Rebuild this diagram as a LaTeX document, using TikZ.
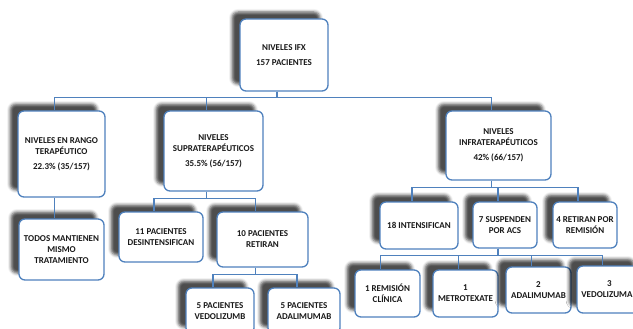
\documentclass[tikz,border=0pt]{standalone}
\usepackage{fontspec}
\setmainfont{Carlito}[BoldFont={Carlito Bold}]
\usetikzlibrary{shadows.blur}
\definecolor{bblue}{RGB}{79,129,189}
\definecolor{txt}{RGB}{25,25,25}
\tikzset{
  box/.style={draw=bblue, line width=1.3pt, rounded corners=6pt, fill=white,
    inner sep=0pt, align=center, text=txt,
    font=\fontsize{9}{11}\selectfont\bfseries,
    blur shadow={shadow xshift=-8pt, shadow yshift=7pt, shadow blur radius=3pt, shadow opacity=70}},
  conn/.style={draw=bblue, line width=1.3pt}
}
\begin{document}
\begin{tikzpicture}[x=1pt,y=-1pt]
\useasboundingbox (0,0) rectangle (633,329);
\clip (0,0) rectangle (633,329);
% nodes
\node[box, minimum width=88pt, minimum height=72pt] (root) at (284,55) {NIVELES IFX\\[4pt]157 PACIENTES};
\node[box, minimum width=87pt, minimum height=86pt] (rango) at (61.5,154) {NIVELES EN RANGO\\TERAPÉUTICO\\[4pt]22.3\% (35/157)};
\node[box, minimum width=99pt, minimum height=80pt] (supra) at (213.5,151) {NIVELES\\SUPRATERAPÉUTICOS\\[4pt]35.5\% (56/157)};
\node[box, minimum width=105pt, minimum height=69pt] (infra) at (498.5,145.5) {NIVELES\\INFRATERAPÉUTICOS\\[4pt]42\% (66/157)};
\node[box, minimum width=85pt, minimum height=61pt] (todos) at (61.5,249.5) {TODOS MANTIENEN\\MISMO\\TRATAMIENTO};
\node[box, minimum width=84pt, minimum height=50pt] (des) at (161,237) {11 PACIENTES\\DESINTENSIFICAN};
\node[box, minimum width=91pt, minimum height=55pt] (ret) at (262.5,239.5) {10 PACIENTES\\RETIRAN};
\node[box, minimum width=68pt, minimum height=46pt] (vedo5) at (220,311) {5 PACIENTES\\VEDOLIZUMB};
\node[box, minimum width=72pt, minimum height=46pt] (adal5) at (304,311) {5 PACIENTES\\ADALIMUMAB};
\node[box, minimum width=78pt, minimum height=47pt] (int18) at (419,225.5) {18 INTENSIFICAN};
\node[box, minimum width=64pt, minimum height=46pt] (susp7) at (505,225) {7 SUSPENDEN\\POR ACS};
\node[box, minimum width=64pt, minimum height=46pt] (ret4) at (585,225) {4 RETIRAN POR\\REMISIÓN};
\node[box, minimum width=65pt, minimum height=47pt] (rem1) at (387.5,293.5) {1 REMISIÓN\\CLÍNICA};
\node[box, minimum width=65pt, minimum height=47pt] (met1) at (465.5,293.5) {1\\METROTEXATE};
\node[box, minimum width=65pt, minimum height=46pt] (adal2) at (538.5,290) {2\\ADALIMUMAB};
\node[box, minimum width=65pt, minimum height=47pt] (vedo3) at (609.5,289.5) {3\\VEDOLIZUMAB};
% connectors
\foreach \c in {rango,supra,infra}
  \draw[conn] ([xshift=-7pt]root.south) -- ++(0,6) -| ([xshift=-7pt]\c.north);
\draw[conn] ([xshift=-7pt]rango.south) -- ([xshift=-7pt]todos.north);
\foreach \c in {des,ret}
  \draw[conn] ([xshift=-7pt]supra.south) -- ++(0,7) -| ([xshift=-7pt]\c.north);
\foreach \c in {vedo5,adal5}
  \draw[conn] ([xshift=-7pt]ret.south) -- ++(0,7) -| ([xshift=-7pt]\c.north);
\foreach \c in {int18,susp7,ret4}
  \draw[conn] ([xshift=-7pt]infra.south) -- ++(0,7) -| ([xshift=-7pt]\c.north);
\foreach \c in {rem1,met1,adal2,vedo3}
  \draw[conn] ([xshift=-7pt]susp7.south) -- ++(0,7) -| ([xshift=-7pt]\c.north);
\end{tikzpicture}
\end{document}
